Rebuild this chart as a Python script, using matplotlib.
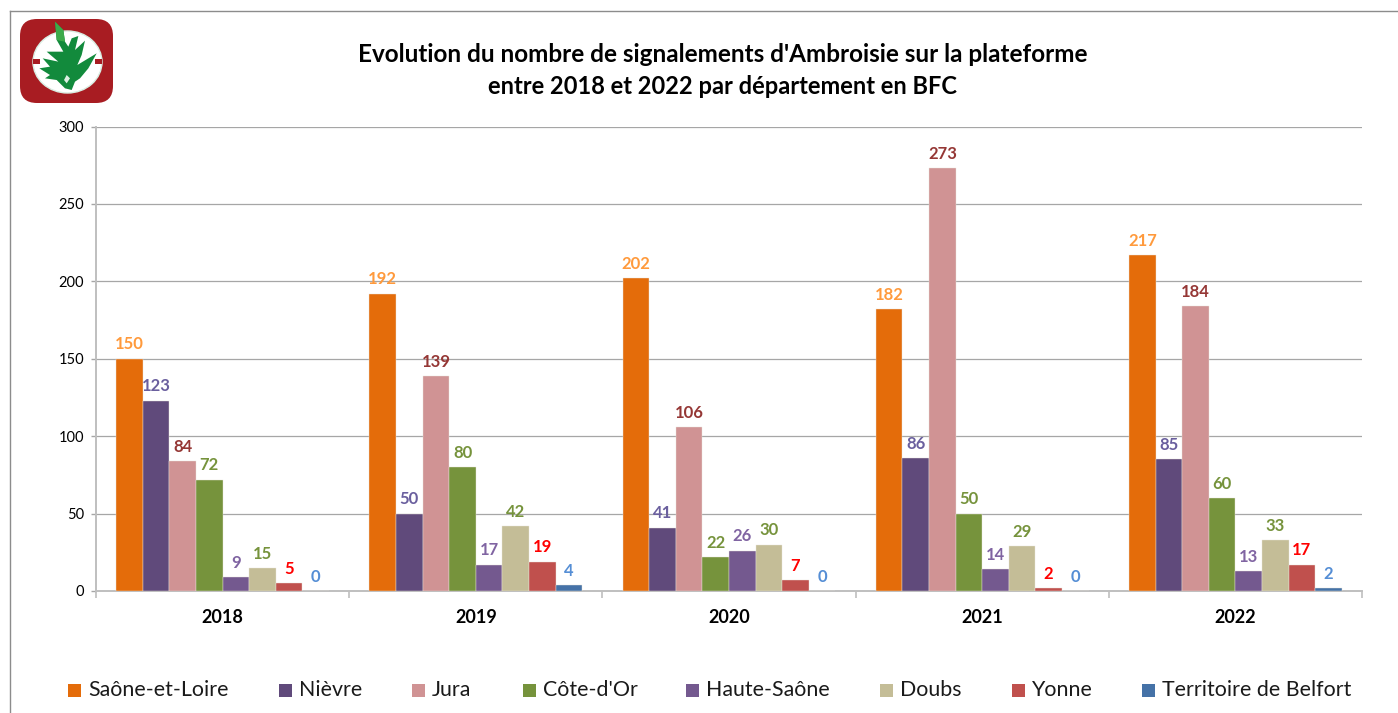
import numpy as np
import matplotlib.pyplot as plt
from matplotlib.patches import FancyBboxPatch, Ellipse, Polygon, Rectangle

plt.rcParams['font.family'] = ['Lato', 'DejaVu Sans']

years = ["2018", "2019", "2020", "2021", "2022"]
departments = ["Saône-et-Loire", "Nièvre", "Jura", "Côte-d'Or", "Haute-Saône",
               "Doubs", "Yonne", "Territoire de Belfort"]

saone_et_loire = [150, 192, 202, 182, 217]
nievre = [123, 50, 41, 86, 85]
jura = [84, 139, 106, 273, 184]
cote_dor = [72, 80, 22, 50, 60]
haute_saone = [9, 17, 26, 14, 13]
doubs = [15, 42, 30, 29, 33]
yonne = [5, 19, 7, 2, 17]
belfort = [0, 4, 0, 0, 2]

series = [saone_et_loire, nievre, jura, cote_dor, haute_saone, doubs, yonne, belfort]
bar_colors = ["#E46C0A", "#604A7B", "#D09394", "#76933C", "#74598F", "#C4BD97", "#C0504D", "#4572A7"]
label_colors = ["#FF9A3C", "#6A5F9E", "#953735", "#76933C", "#8064A2", "#76933C", "#FF0000", "#558ED5"]

W, H = 1398, 713
fig = plt.figure(figsize=(W / 100, H / 100), dpi=100)

# axes placed in pixels
ax = fig.add_axes([96 / W, 1 - 591 / H, (1362 - 96) / W, (591 - 126.5) / H])

bar_w = 0.105
x = np.arange(len(years))
for i, vals in enumerate(series):
    pos = x + (i - 3.5) * bar_w
    ax.bar(pos, vals, bar_w, color=bar_colors[i], edgecolor="#E8E4DA", linewidth=0.3, zorder=3)
    for px, v in zip(pos, vals):
        ax.annotate(str(v), (px, v), xytext=(0, 4.5), textcoords="offset points",
                    ha="center", va="bottom", fontsize=12, fontweight="bold",
                    color=label_colors[i], zorder=4)

ax.set_xlim(-0.5, 4.5)
ax.set_ylim(0, 300)
ax.set_yticks(range(0, 301, 50))
ax.set_xticks(np.arange(-0.5, 5, 1))
ax.set_xticklabels([])
ax.set_xticks(x, minor=True)
ax.set_xticklabels(years, minor=True, fontsize=13, fontweight="bold")
ax.tick_params(axis="x", which="major", length=5, color="#BFBFBF", width=1.2)
ax.tick_params(axis="x", which="minor", length=0, pad=13)
ax.tick_params(axis="y", length=3.6, color="#A6A6A6", labelsize=10.5, pad=5, width=1)
ax.grid(axis="y", color="#A6A6A6", linewidth=0.9, zorder=0)
ax.set_axisbelow(True)
for s in ["top", "right"]:
    ax.spines[s].set_visible(False)
for s in ["left", "bottom"]:
    ax.spines[s].set_color("#BFBFBF")
    ax.spines[s].set_linewidth(1.4)

# title
fig.text(723 / W, 1 - 55 / H, "Evolution du nombre de signalements d'Ambroisie sur la plateforme",
         ha="center", va="center", fontsize=17.5, fontweight="bold", color="black")
fig.text(723 / W, 1 - 87 / H, "entre 2018 et 2022 par département en BFC",
         ha="center", va="center", fontsize=17, fontweight="bold", color="black")

# overlay in pixel coordinates for frame, logo and legend
ov = fig.add_axes([0, 0, 1, 1], zorder=5)
ov.set_xlim(0, W)
ov.set_ylim(H, 0)
ov.axis("off")
ov.patch.set_alpha(0)

# frame
ov.plot([9.5, 9.5], [713, 10.5], color="#8C8C8C", lw=1)
ov.plot([9.5, 1398], [10.5, 10.5], color="#8C8C8C", lw=1)

# logo
ov.add_patch(FancyBboxPatch((20, 19), 93, 84, boxstyle="round,pad=0,rounding_size=17",
                            fc="#A81C22", ec="none"))
ov.add_patch(Ellipse((67.5, 62), 69, 62, fc="white", ec="#D9EDE2", lw=1))
ov.add_patch(Rectangle((33, 59), 7, 5, fc="#A81C22", ec="none"))
ov.add_patch(Rectangle((95, 59), 7, 5, fc="#A81C22", ec="none"))
leaf = [(165, 65), (190, 90), (195, 125), (205, 140), (215, 115), (235, 108), (225, 150),
        (255, 122), (245, 165), (232, 195), (290, 160), (265, 205), (240, 235), (225, 245),
        (215, 270), (195, 265), (170, 240), (135, 235), (150, 225), (118, 205), (150, 200),
        (128, 175), (175, 185), (140, 155), (190, 155), (170, 120)]
ov.add_patch(Polygon([(a / 3, b / 3) for a, b in leaf], closed=True, fc="#128A3C", ec="none"))
tip = [(165, 65), (190, 90), (195, 125), (178, 122), (170, 120)]
ov.add_patch(Polygon([(a / 3, b / 3) for a, b in tip], closed=True, fc="#3DAA4A", ec="none"))
vein = [(200, 225), (210, 235), (200, 250), (192, 240)]
ov.add_patch(Polygon([(a / 3, b / 3) for a, b in vein], closed=True, fc="#DDEFE2", ec="none"))

# legend, placed by hand like the original
marker_x = [68, 279, 412, 523, 686, 880, 1012, 1142]
for name, col, mx in zip(departments, bar_colors, marker_x):
    ov.add_patch(Rectangle((mx, 684), 13, 13, fc=col, ec="none"))
    ov.text(mx + 20, 690, name, ha="left", va="center", fontsize=15.4, color="#1A1A1A")

plt.savefig("out.png", dpi=100)
